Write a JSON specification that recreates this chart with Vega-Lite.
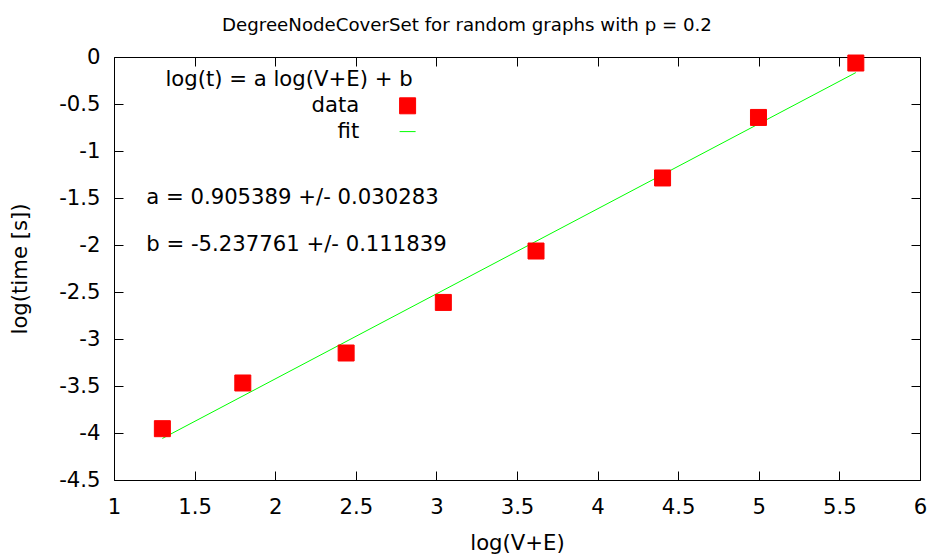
{
  "$schema": "https://vega.github.io/schema/vega-lite/v6.json",
  "width": 806,
  "height": 423,
  "autosize": {"type": "none"},
  "padding": {"left": 114, "top": 57, "right": 14, "bottom": 74},
  "background": "white",
  "title": {"text": "DegreeNodeCoverSet for random graphs with p = 0.2", "fontSize": 18.2, "font": "DejaVu Sans", "fontWeight": "normal", "color": "black", "anchor": "middle", "dx": -50, "offset": -3, "baseline": "alphabetic"},
  "datasets": {
    "pts": [
      {"x": 1.300, "y": -3.954, "series": "data"},
      {"x": 1.799, "y": -3.468, "series": "data"},
      {"x": 2.440, "y": -3.149, "series": "data"},
      {"x": 3.043, "y": -2.611, "series": "data"},
      {"x": 3.618, "y": -2.064, "series": "data"},
      {"x": 4.403, "y": -1.287, "series": "data"},
      {"x": 4.998, "y": -0.643, "series": "data"},
      {"x": 5.602, "y": -0.064, "series": "data"}
    ],
    "fit": [
      {"x": 1.300, "y": -4.058, "series": "fit"},
      {"x": 5.602, "y": -0.166, "series": "fit"}
    ],
    "notes": [
      {"x": 1.2, "y": -1.5, "label": "a = 0.905389 +/- 0.030283"},
      {"x": 1.2, "y": -2.0, "label": "b = -5.237761 +/- 0.111839"}
    ]
  },
  "layer": [
    {
      "data": {"name": "fit"},
      "mark": {"type": "line", "strokeWidth": 1, "color": "#00ff00"},
      "encoding": {
        "x": {"field": "x", "type": "quantitative", "scale": {"domain": [1, 6], "nice": false, "zero": false},
              "axis": {"orient": "top", "labels": false, "title": null, "domain": false, "ticks": true, "tickSize": -9, "values": [1, 1.5, 2, 2.5, 3, 3.5, 4, 4.5, 5, 5.5, 6]}},
        "y": {"field": "y", "type": "quantitative", "scale": {"domain": [-4.5, 0], "nice": false, "zero": false},
              "axis": {"orient": "right", "labels": false, "title": null, "domain": false, "ticks": true, "tickSize": -9, "values": [-4.5, -4, -3.5, -3, -2.5, -2, -1.5, -1, -0.5, 0]}}
      }
    },
    {
      "data": {"name": "pts"},
      "mark": {"type": "point", "filled": true, "size": 256, "strokeWidth": 1, "opacity": 1},
      "encoding": {
        "x": {"field": "x", "type": "quantitative",
              "axis": {"orient": "bottom", "title": "log(V+E)", "values": [1, 1.5, 2, 2.5, 3, 3.5, 4, 4.5, 5, 5.5, 6], "labelExpr": "toString(datum.value)", "labelFlush": false, "labelOverlap": false, "labelPadding": 25, "titlePadding": 15, "tickSize": -9}},
        "y": {"field": "y", "type": "quantitative",
              "axis": {"orient": "left", "title": "log(time [s])", "values": [-4.5, -4, -3.5, -3, -2.5, -2, -1.5, -1, -0.5, 0], "labelExpr": "toString(datum.value)", "labelFlush": false, "labelOverlap": false, "labelPadding": 23, "titlePadding": 28, "tickSize": -9}},
        "fill": {"field": "series", "type": "nominal",
                  "scale": {"domain": ["data", "fit"], "range": ["#ff0000", "#00ff00"]},
                  "legend": {
                    "orient": "none", "legendX": 51, "legendY": 12.4,
                    "title": "log(t) = a log(V+E) + b", "titleLimit": 500,
                    "titleFontSize": 21.2, "titleFont": "DejaVu Sans", "titleFontWeight": "normal", "titleColor": "black", "titleAnchor": "start", "titleAlign": "center", "titlePadding": 4.6,
                    "labelFontSize": 21.2, "labelFont": "DejaVu Sans", "labelColor": "black", "labelAlign": "right", "labelOffset": -59, "labelLimit": 300,
                    "symbolSize": 256, "symbolOffset": 108, "symbolStrokeWidth": 1, "symbolOpacity": 1,
                    "rowPadding": 3.8, "padding": 0
                  }},
        "stroke": {"field": "series", "type": "nominal", "scale": {"domain": ["data", "fit"], "range": ["#ff0000", "#00ff00"]}},
        "shape": {"field": "series", "type": "nominal", "scale": {"domain": ["data", "fit"], "range": ["square", "stroke"]}}
      }
    },
    {
      "data": {"name": "notes"},
      "mark": {"type": "text", "align": "left", "baseline": "middle", "fontSize": 21.2, "font": "DejaVu Sans", "color": "black"},
      "encoding": {
        "x": {"field": "x", "type": "quantitative", "axis": null},
        "y": {"field": "y", "type": "quantitative", "axis": null},
        "text": {"field": "label"}
      }
    }
  ],
  "resolve": {"axis": {"x": "independent", "y": "independent"}},
  "config": {
    "font": "DejaVu Sans",
    "view": {"stroke": "black", "strokeWidth": 1},
    "axis": {"grid": false, "domain": false, "tickColor": "black", "tickWidth": 1, "labelColor": "black", "labelFontSize": 21.2, "titleFontSize": 21.2, "titleFontWeight": "normal", "titleColor": "black", "labelFont": "DejaVu Sans", "titleFont": "DejaVu Sans"}
  }
}
